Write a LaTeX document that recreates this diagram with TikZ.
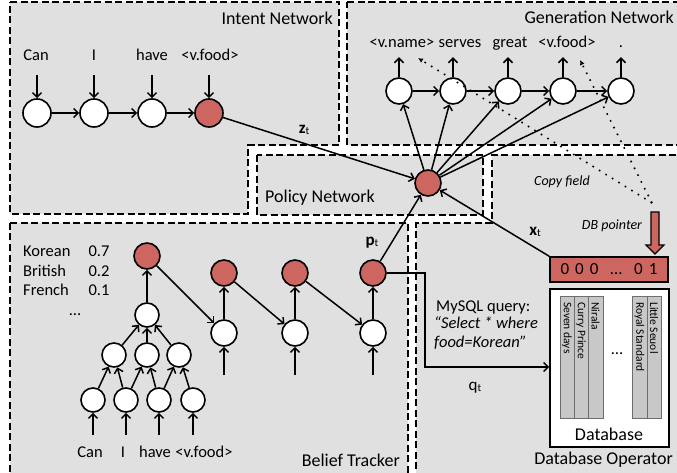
\documentclass[tikz,border=0pt]{standalone}
\usepackage{fontspec}
\setmainfont{Carlito}
\usetikzlibrary{arrows.meta}
\definecolor{panelgray}{RGB}{224,224,224}
\definecolor{nodered}{RGB}{205,102,97}
\definecolor{colgray}{RGB}{200,200,200}
\definecolor{colline}{RGB}{110,110,110}
\begin{document}
\begin{tikzpicture}[x=1pt,y=-1pt,
 panel/.style={fill=panelgray,draw=black,line width=1.8pt,dash pattern=on 7pt off 3.5pt},
 cnode/.style={circle,draw=black,line width=1.6pt,fill=white,minimum size=26pt,inner sep=0pt},
 rnode/.style={cnode,fill=nodered},
 tnode/.style={cnode,minimum size=24pt},
 arr/.style={line width=1.5pt,-{Straight Barb[length=4.5pt,width=9pt,line width=1.5pt]}},
 word/.style={font=\fontsize{16.5}{18}\selectfont,inner sep=1pt,text height=11pt,text depth=3pt},
 title/.style={font=\fontsize{18}{20}\selectfont,inner sep=0pt},
 sub/.style={font=\fontsize{17}{18}\selectfont,inner sep=0pt},
 note/.style={font=\fontsize{14}{16}\selectfont\itshape,inner sep=0pt},
 coltext/.style={font=\fontsize{11.5}{12}\selectfont,rotate=-90,anchor=west,inner sep=0pt},
 dbcol/.style={fill=colgray,draw=colline,line width=0.9pt},
 dotline/.style={line width=1.6pt,dash pattern=on 1.6pt off 6pt,-{Latex[open,length=5pt,width=5pt,line width=1pt]}}]
\clip (0,0) rectangle (677,473);
% panels
\path[panel] (10,2) -- (339,2) -- (339,145) -- (248,145) -- (248,214) -- (10,214) -- cycle;
\path[panel] (347,2) -- (685,2) -- (685,145) -- (347,145) -- cycle;
\path[panel] (257,155) rectangle (483,215);
\path[panel] (10,223) -- (408,223) -- (408,490) -- (10,490) -- cycle;
\path[panel] (416,490) -- (416,223) -- (492,223) -- (492,155) -- (685,155) -- (685,490) -- cycle;
% titles
\node[title,anchor=east] (tInt) at (333,18) {Intent Network};
\node[title,anchor=east] (tGen) at (674,17) {Generation Network};
\node[title,anchor=west] (tPol) at (265,198) {Policy Network};
\node[title,anchor=east] (tBel) at (400,460) {Belief Tracker};
\node[title,anchor=east] (tDBO) at (673,460) {Database Operator};
% intent network
\node[cnode,minimum size=28pt] (i1) at (37,113) {};
\node[cnode,minimum size=28pt] (i2) at (94,113) {};
\node[cnode,minimum size=28pt] (i3) at (152,113) {};
\node[rnode,minimum size=28pt] (i4) at (209,113) {};
\node[word] (wi1) at (36,57) {Can};
\node[word] (wi2) at (94,57) {I};
\node[word] (wi3) at (152,57) {have};
\node[word] (wi4) at (210,57) {<v.food>};
\foreach \k in {1,2,3,4} {\draw[arr,shorten <=10pt] (i\k |- wi\k.south) -- (i\k);}
\draw[arr] (i1) -- (i2);
\draw[arr] (i2) -- (i3);
\draw[arr] (i3) -- (i4);
% generation network
\node[cnode] (g1) at (399,91) {};
\node[cnode] (g2) at (453,91) {};
\node[cnode] (g3) at (508,91) {};
\node[cnode] (g4) at (563,91) {};
\node[cnode] (g5) at (621,91) {};
\node[word] (wg1) at (402,44) {<v.name>};
\node[word] (wg2) at (460,44) {serves};
\node[word] (wg3) at (510,44) {great};
\node[word] (wg4) at (567,44) {<v.food>};
\node[word] (wg5) at (621,44) {.};
\foreach \k in {1,...,5} {\draw[arr,shorten >=5pt] (g\k) -- (g\k |- wg\k.south);}
\draw[arr] (g1) -- (g2);
\draw[arr] (g2) -- (g3);
\draw[arr] (g3) -- (g4);
\draw[arr] (g4) -- (g5);
% policy
\node[rnode] (pol) at (428,183) {};
\foreach \k in {1,...,5} {\draw[arr] (pol) -- (g\k);}
\draw[arr] (i4) -- (pol);
\node[sub] (zt) at (304,130) {\textbf{z}\raisebox{-1pt}{\fontsize{11}{12}\selectfont t}};
% belief tracker
\node[rnode] (br0) at (147,256) {};
\node[tnode] (bw0) at (147,315) {};
\node[tnode] (m1) at (114,355) {};
\node[tnode] (m2) at (147,355) {};
\node[tnode] (m3) at (179,355) {};
\node[tnode] (l1) at (93,400) {};
\node[tnode] (l2) at (126,400) {};
\node[tnode] (l3) at (159,400) {};
\node[tnode] (l4) at (193,400) {};
\node[rnode] (br1) at (224,273) {};
\node[rnode] (br2) at (295,273) {};
\node[rnode] (br3) at (373,273) {};
\node[cnode] (bw1) at (224,333) {};
\node[cnode] (bw2) at (295,333) {};
\node[cnode] (bw3) at (373,333) {};
\coordinate (cl1) at (93,435);
\coordinate (cl2) at (126,435);
\coordinate (cl3) at (159,435);
\coordinate (cl4) at (193,435);
\coordinate (cw1) at (224,375);
\coordinate (cw2) at (295,375);
\coordinate (cw3) at (373,375);
\foreach \k in {1,...,4} {\draw[arr] (cl\k) -- (l\k);}
\foreach \k in {1,2,3} {\draw[arr] (cw\k) -- (bw\k); \draw[arr] (bw\k) -- (br\k);}
\draw[arr] (l1) -- (m1);
\draw[arr] (l2) -- (m1);
\draw[arr] (l2) -- (m2);
\draw[arr] (l3) -- (m2);
\draw[arr] (l3) -- (m3);
\draw[arr] (l4) -- (m3);
\draw[arr] (m1) -- (bw0);
\draw[arr] (m2) -- (bw0);
\draw[arr] (m3) -- (bw0);
\draw[arr] (bw0) -- (br0);
\draw[arr] (br0) -- (bw1);
\draw[arr] (br1) -- (bw2);
\draw[arr] (br2) -- (bw3);
\node[word] (bl1) at (90,453) {Can};
\node[word] (bl2) at (123,453) {I};
\node[word] (bl3) at (155,453) {have};
\node[word] (bl4) at (204,453) {<v.food>};
\node[word,anchor=west] (k1) at (22,252) {Korean};
\node[word,anchor=west] (k2) at (22,272) {British};
\node[word,anchor=west] (k3) at (22,291) {French};
\node[word] (k1v) at (99,252) {0.7};
\node[word] (k2v) at (99,272) {0.2};
\node[word] (k3v) at (99,291) {0.1};
\node[word] (kdots) at (75,311) {…};
\draw[arr] (br3) -- (pol);
\node[sub] (pt) at (372,243) {\textbf{p}\raisebox{-1pt}{\fontsize{11}{12}\selectfont t}};
% database operator
\node[draw,line width=1.6pt,fill=white,minimum width=119pt,minimum height=158pt,inner sep=0pt] (dbbox) at (609.5,368) {};
\draw[dbcol] (560,296) rectangle (574,418);
\draw[dbcol] (574,296) rectangle (588,418);
\draw[dbcol] (588,296) rectangle (603,418);
\draw[dbcol] (632,296) rectangle (647,418);
\draw[dbcol] (647,296) rectangle (661,418);
\node[coltext] (c1) at (567,302) {Seven days};
\node[coltext] (c2) at (581,302) {Curry Prince};
\node[coltext] (c3) at (595.5,302) {Nirala};
\node[coltext] (c4) at (639.5,302) {Royal Standard};
\node[coltext] (c5) at (654,302) {Little Seuol};
\node[word] (cdots) at (617,350) {…};
\node[title] (dblabel) at (609,434) {Database};
\node[draw,line width=1.3pt,fill=nodered,minimum width=118pt,minimum height=25pt,inner sep=0pt,font=\fontsize{17}{18}\selectfont] (vec) at (609,269.5) {0\hspace{6pt}0\hspace{6pt}0\hspace{12pt}…\hspace{12pt}0\hspace{6pt}1};
\draw[arr] (vec.north west) -- (pol);
\node[sub] (xt) at (535,232) {\textbf{x}\raisebox{-1pt}{\fontsize{11}{12}\selectfont t}};
\draw[line width=1.2pt,fill=nodered] (651,212) -- (659,212) -- (659,245) -- (664,245) -- (655,254) -- (646,245) -- (651,245) -- cycle;
\coordinate (dp) at (652,203);
\coordinate (cf1) at (418,58);
\coordinate (cf2) at (580,60);
\draw[dotline] (dp) -- (cf1);
\draw[dotline] (dp) -- (cf2);
\node[note] (copyf) at (562,182) {Copy field};
\node[note] (dbp) at (612,226) {DB pointer};
\node[word,anchor=west] (sql1) at (435,307) {MySQL query:};
\node[word,anchor=west] (sql2) at (433,324) {\itshape “Select * where};
\node[word,anchor=west] (sql3) at (433,343) {\itshape food=Korean”};
\coordinate (qa) at (425,367);
\draw[arr] (br3.east) -| (qa) -- (dbbox.west |- qa);
\node[sub] (qt) at (475,388) {q\raisebox{-1pt}{\fontsize{11}{12}\selectfont t}};
\end{tikzpicture}
\end{document}
